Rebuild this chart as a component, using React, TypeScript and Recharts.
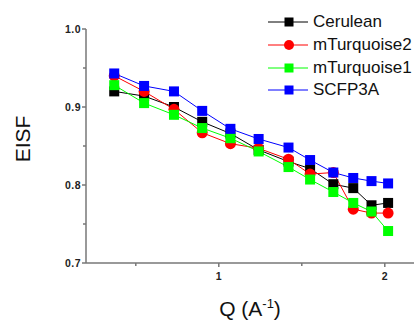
import { LineChart, Line, XAxis, YAxis, Legend } from 'recharts';

// Q values (A^-1) shared by all series
const qValues = [0.37, 0.55, 0.73, 0.9, 1.07, 1.24, 1.42, 1.55, 1.69, 1.81, 1.92, 2.02];

const cerulean = [0.92, 0.914, 0.9, 0.881, 0.866, 0.845, 0.83, 0.821, 0.801, 0.796, 0.774, 0.777];
const mTurquoise2 = [0.94, 0.92, 0.897, 0.867, 0.853, 0.847, 0.833, 0.814, 0.816, 0.769, 0.764, 0.764];
const mTurquoise1 = [0.928, 0.905, 0.89, 0.873, 0.86, 0.843, 0.823, 0.807, 0.791, 0.777, 0.766, 0.741];
const scfp3a = [0.943, 0.927, 0.92, 0.895, 0.872, 0.859, 0.848, 0.832, 0.816, 0.809, 0.805, 0.802];

const xTicks = [0.5, 1, 1.5, 2];
const yTicks = [0.7, 0.75, 0.8, 0.85, 0.9, 0.95, 1.0];

const FONT = '"Liberation Sans", Arial, sans-serif';

const series = [
  { key: 'cerulean', name: 'Cerulean', color: '#000000', shape: 'square' },
  { key: 'mTurquoise2', name: 'mTurquoise2', color: '#ff0000', shape: 'circle' },
  { key: 'mTurquoise1', name: 'mTurquoise1', color: '#00ff00', shape: 'square' },
  { key: 'scfp3a', name: 'SCFP3A', color: '#0000ff', shape: 'square' },
];

const data = qValues.map((q, i) => ({
  q,
  cerulean: cerulean[i],
  mTurquoise2: mTurquoise2[i],
  mTurquoise1: mTurquoise1[i],
  scfp3a: scfp3a[i],
}));

function makeDot(color: string, shape: string) {
  return (p: any) => {
    if (p.cx == null || p.cy == null) return <g key={p.index} />;
    if (shape === 'circle') {
      return <circle key={p.index} cx={p.cx} cy={p.cy} r={5.5} fill={color} />;
    }
    return <rect key={p.index} x={p.cx - 5} y={p.cy - 5} width={10} height={10} fill={color} />;
  };
}

const XTick = (props: any) => {
  const { x, y, payload } = props;
  const major = Number.isInteger(payload.value);
  return (
    <g>
      <line x1={x} y1={y} x2={x} y2={y + (major ? 4 : 3)} stroke="#777" strokeWidth={1.5} />
      {major && (
        <text x={x} y={y + 17} textAnchor="middle" fontSize={10.5} fontWeight="bold" fill="#222" fontFamily={FONT}>
          {payload.value}
        </text>
      )}
    </g>
  );
};

const YTick = (props: any) => {
  const { x, y, payload } = props;
  const major = Math.abs(payload.value * 10 - Math.round(payload.value * 10)) < 1e-6;
  return (
    <g>
      <line x1={x} y1={y} x2={x - (major ? 4 : 3)} y2={y} stroke="#777" strokeWidth={1.5} />
      {major && (
        <text x={x - 5} y={y + 4} textAnchor="end" fontSize={10.5} fontWeight="bold" fill="#222" fontFamily={FONT} letterSpacing={0.5}>
          {payload.value.toFixed(1)}
        </text>
      )}
    </g>
  );
};

const XLabel = (props: any) => {
  const vb = props.viewBox;
  return (
    <text x={vb.x + vb.width / 2} y={vb.y + 53} textAnchor="middle" fontSize={21} fill="#111" fontFamily={FONT}>
      Q (A
      <tspan dy={-8} fontSize={13}>-1</tspan>
      <tspan dy={8}>)</tspan>
    </text>
  );
};

const YLabel = (props: any) => {
  const vb = props.viewBox;
  const cy = vb.y + vb.height / 2 - 7;
  return (
    <text x={30} y={cy} transform={`rotate(-90 30 ${cy})`} textAnchor="middle" fontSize={21} fill="#111" fontFamily={FONT}>
      EISF
    </text>
  );
};

const LegendBox = () => (
  <div style={{ fontFamily: FONT, fontSize: 17, color: '#111', whiteSpace: 'nowrap' }}>
    {series.map((s) => (
      <div key={s.key} style={{ display: 'flex', alignItems: 'center', height: 22.7 }}>
        <svg width={45} height={12} style={{ marginRight: 0 }}>
          <line x1={0} y1={6} x2={40} y2={6} stroke={s.color} strokeWidth={1} />
          {s.shape === 'circle' ? (
            <circle cx={21} cy={6} r={5} fill={s.color} />
          ) : (
            <rect x={16.5} y={1.5} width={9} height={9} fill={s.color} />
          )}
        </svg>
        <span>{s.name}</span>
      </div>
    ))}
  </div>
);

export default function App() {
  return (
    <div style={{ position: 'absolute', left: 0, top: 0, width: 414, height: 320, overflow: 'hidden', background: '#fff' }}>
      <LineChart width={414} height={320} data={data} margin={{ top: 29, right: 0, bottom: 0, left: 0 }}>
        <XAxis
          dataKey="q"
          type="number"
          domain={[0.2, 2.176]}
          ticks={xTicks}
          interval={0}
          height={57}
          tickSize={0}
          tickMargin={0}
          tickLine={false}
          tick={<XTick />}
          stroke="#777"
          strokeWidth={1.5}
          allowDataOverflow
          label={<XLabel />}
        />
        <YAxis
          type="number"
          domain={[0.7, 1.0]}
          ticks={yTicks}
          interval={0}
          width={86}
          tickSize={0}
          tickMargin={0}
          tickLine={false}
          tick={<YTick />}
          stroke="#777"
          strokeWidth={1.5}
          allowDataOverflow
          label={<YLabel />}
        />
        <Legend
          layout="vertical"
          align="center"
          verticalAlign="middle"
          content={() => <LegendBox />}
          wrapperStyle={{ left: 268, top: 11, width: 180 }}
        />
        {series.map((s) => (
          <Line
            key={s.key}
            dataKey={s.key}
            name={s.name}
            type="linear"
            stroke={s.color}
            strokeWidth={1}
            dot={makeDot(s.color, s.shape)}
            activeDot={false}
            isAnimationActive={false}
          />
        ))}
      </LineChart>
    </div>
  );
}
